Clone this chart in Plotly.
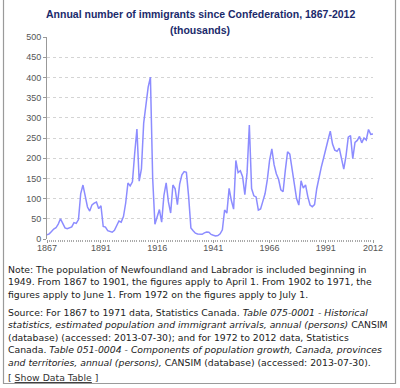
import plotly.graph_objects as go

years = list(range(1867, 2013))
immigrants = [
    10.7, 12.8, 18.6, 24.7, 27.8, 37.0, 50.0, 39.4, 27.4, 25.6,   # 1867-1876
    27.1, 29.8, 40.5, 38.5, 48.0, 112.5, 133.6, 103.8, 79.2, 69.2,  # 1877-1886
    84.5, 88.8, 91.6, 75.1, 82.2, 31.0, 29.6, 20.8, 18.8, 16.8,    # 1887-1896
    21.7, 31.9, 44.5, 41.7, 55.7, 89.1, 138.7, 131.3, 141.5, 211.7,  # 1897-1906
    272.4, 143.3, 173.7, 286.8, 331.3, 375.8, 400.9, 150.5, 36.7, 55.9,  # 1907-1916
    72.9, 41.8, 107.7, 138.8, 91.7, 64.2, 133.7, 124.2, 84.9, 136.0,  # 1917-1926
    158.9, 166.8, 165.0, 104.8, 27.5, 20.6, 14.4, 12.5, 11.3, 11.6,  # 1927-1936
    15.1, 17.2, 17.0, 11.3, 9.3, 7.6, 8.5, 12.8, 22.7, 71.7,      # 1937-1946
    64.1, 125.4, 95.2, 73.9, 194.4, 164.5, 168.9, 154.2, 109.9, 164.9,  # 1947-1956
    282.2, 124.9, 106.9, 104.1, 71.7, 74.6, 93.2, 112.6, 146.8, 194.7,  # 1957-1966
    222.9, 184.0, 161.5, 147.7, 121.9, 117.0, 170.0, 216.0, 210.0, 170.0,  # 1967-1976
    130.0, 100.0, 84.0, 144.0, 126.0, 134.0, 105.0, 84.0, 80.0, 85.0,  # 1977-1986
    125.0, 155.0, 178.0, 200.0, 220.0, 245.0, 267.0, 235.0, 220.0, 217.0,  # 1987-1996
    225.0, 194.0, 173.0, 206.0, 252.0, 256.0, 199.0, 239.0, 244.0, 254.0,  # 1997-2006
    238.0, 250.0, 245.0, 271.0, 259.0, 260.0,                      # 2007-2012
]

x_tick_vals = [1867, 1891, 1916, 1941, 1966, 1991, 2012]
x_tick_text = ["1867", "1891", "1916", "1941", "1966", "1991", "2012"]
y_tick_vals = [0, 50, 100, 150, 200, 250, 300, 350, 400, 450, 500]

title_lines = [
    "Annual number of immigrants since Confederation, 1867-2012",
    "(thousands)",
]
note_lines = [
    "Note: The population of Newfoundland and Labrador is included beginning in",
    "1949. From 1867 to 1901, the figures apply to April 1. From 1902 to 1971, the",
    "figures apply to June 1. From 1972 on the figures apply to July 1.",
]
source_lines = [
    "Source: For 1867 to 1971 data, Statistics Canada. <i>Table 075-0001 - Historical</i>",
    "<i>statistics, estimated population and immigrant arrivals, annual (persons)</i> CANSIM",
    "(database) (accessed: 2013-07-30); and for 1972 to 2012 data, Statistics",
    "Canada. <i>Table 051-0004 - Components of population growth, Canada, provinces</i>",
    "<i>and territories, annual (persons),</i> CANSIM (database) (accessed: 2013-07-30).",
]
link_line = "[ <u>Show Data Table</u> ]"

W, H = 400, 388
L, R, T, B = 47, 373, 37, 239  # plot area pixel bounds


def px(xp):
    return (xp - L) / (R - L)


def py(yp):
    return (B - yp) / (B - T)


fig = go.Figure()
fig.add_trace(go.Scatter(
    x=years, y=immigrants, mode="lines",
    line=dict(color="#8c8cff", width=1.5),
    hoverinfo="x+y",
))

annotations = []
for i, t in enumerate(title_lines):
    annotations.append(dict(
        text="<b>%s</b>" % t, xref="paper", yref="paper",
        x=px(200), y=py(14 + 16 * i), xanchor="center", yanchor="middle",
        showarrow=False,
        font=dict(family="Liberation Sans, Arial, sans-serif", size=10.5, color="#1b2a6b"),
    ))

text_font = dict(family="DejaVu Sans, Verdana, sans-serif", size=9.3, color="#222222")
note_y = [269, 281.5, 294]
source_y = [312, 324.5, 337, 349.5, 362]
for t, yy in zip(note_lines, note_y):
    annotations.append(dict(
        text=t, xref="paper", yref="paper", x=px(6), y=py(yy),
        xanchor="left", yanchor="middle", showarrow=False, font=text_font,
    ))
for t, yy in zip(source_lines, source_y):
    annotations.append(dict(
        text=t, xref="paper", yref="paper", x=px(6), y=py(yy),
        xanchor="left", yanchor="middle", showarrow=False, font=text_font,
    ))
annotations.append(dict(
    text=link_line, xref="paper", yref="paper", x=px(6), y=py(377),
    xanchor="left", yanchor="middle", showarrow=False,
    font=dict(family="DejaVu Sans, Verdana, sans-serif", size=9.3, color="#333333"),
))

fig.update_layout(
    width=W, height=H,
    margin=dict(l=L, r=W - R, t=T, b=H - B, pad=0),
    paper_bgcolor="white", plot_bgcolor="white",
    showlegend=False,
    annotations=annotations,
    shapes=[dict(
        type="rect", xref="paper", yref="paper",
        x0=px(3.5), x1=px(395.5), y0=py(383.5), y1=py(-3),
        line=dict(color="#9a9a9a", width=1.2), fillcolor="rgba(0,0,0,0)",
        layer="above",
    )],
    xaxis=dict(
        range=[1867, 2012], tickvals=x_tick_vals, ticktext=x_tick_text,
        showgrid=False, zeroline=False,
        showline=False,
        ticks="outside", ticklen=3, tickcolor="#999999",
        ticklabelstandoff=-3,
        minor=dict(dtick=1, tick0=1867, ticks="outside", ticklen=2, tickcolor="#aaaaaa"),
        tickfont=dict(family="Liberation Sans, Arial, sans-serif", size=9, color="#555555"),
        fixedrange=True,
    ),
    yaxis=dict(
        range=[0, 500], tickvals=y_tick_vals,
        showgrid=True, gridcolor="#d4d4d4", griddash="dot", gridwidth=1,
        zeroline=False,
        showline=True, linecolor="#999999", linewidth=1,
        ticks="outside", ticklen=3, tickcolor="#999999",
        tickfont=dict(family="Liberation Sans, Arial, sans-serif", size=9, color="#555555"),
        fixedrange=True,
    ),
)

fig.write_html(
    "out.html",
    config={"displayModeBar": False},
    post_script="document.body.style.margin='0px';document.body.style.overflow='hidden';",
)
